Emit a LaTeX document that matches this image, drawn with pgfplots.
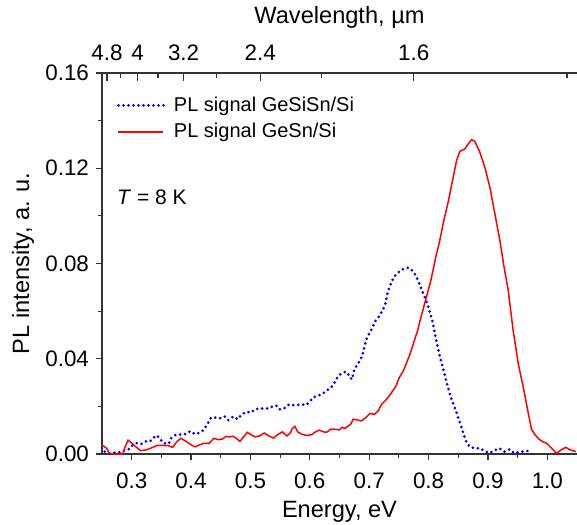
\documentclass[border=0pt]{standalone}
\usepackage{fontspec}
\setmainfont{Liberation Sans}
\usepackage{pgfplots}
\pgfplotsset{compat=1.18}
\definecolor{pblue}{RGB}{0,0,255}
\definecolor{pred}{RGB}{255,0,0}
\pgfplotstableread{
E I
0.2545 0.0010
0.2620 0.0003
0.2700 0.0005
0.2786 0.0007
0.2870 0.0014
0.2950 0.0020
0.3010 0.0035
0.3090 0.0046
0.3160 0.0042
0.3240 0.0053
0.3310 0.0053
0.3360 0.0068
0.3430 0.0078
0.3480 0.0061
0.3550 0.0045
0.3620 0.0042
0.3670 0.0068
0.3750 0.0082
0.3830 0.0082
0.3910 0.0084
0.3990 0.0096
0.4060 0.0084
0.4140 0.0089
0.4205 0.0099
0.4256 0.0117
0.4300 0.0137
0.4335 0.0153
0.4408 0.0153
0.4475 0.0149
0.4566 0.0157
0.4626 0.0142
0.4710 0.0157
0.4785 0.0146
0.4850 0.0166
0.4930 0.0177
0.5010 0.0174
0.5080 0.0188
0.5155 0.0191
0.5230 0.0191
0.5310 0.0191
0.5390 0.0202
0.5450 0.0202
0.5500 0.0187
0.5570 0.0192
0.5650 0.0208
0.5730 0.0205
0.5800 0.0206
0.5880 0.0208
0.5946 0.0206
0.6007 0.0223
0.6070 0.0239
0.6148 0.0246
0.6215 0.0253
0.6280 0.0266
0.6355 0.0279
0.6406 0.0295
0.6450 0.0316
0.6520 0.0336
0.6580 0.0344
0.6630 0.0343
0.6663 0.0327
0.6709 0.0313
0.6754 0.0358
0.6805 0.0376
0.6855 0.0397
0.6890 0.0418
0.6928 0.0460
0.6967 0.0492
0.7023 0.0515
0.7068 0.0539
0.7101 0.0557
0.7158 0.0575
0.7203 0.0594
0.7247 0.0613
0.7276 0.0634
0.7303 0.0671
0.7337 0.0696
0.7377 0.0724
0.7433 0.0748
0.7488 0.0762
0.7573 0.0777
0.7657 0.0782
0.7730 0.0770
0.7775 0.0752
0.7820 0.0731
0.7854 0.0710
0.7887 0.0689
0.7920 0.0668
0.7955 0.0647
0.8010 0.0606
0.8067 0.0555
0.8118 0.0490
0.8160 0.0445
0.8200 0.0400
0.8246 0.0357
0.8290 0.0315
0.8337 0.0272
0.8375 0.0237
0.8426 0.0205
0.8480 0.0167
0.8527 0.0132
0.8566 0.0104
0.8600 0.0076
0.8640 0.0049
0.8695 0.0030
0.8780 0.0024
0.8864 0.0024
0.8950 0.0011
0.9030 0.0004
0.9100 0.0014
0.9190 0.0024
0.9280 0.0010
0.9370 0.0020
0.9436 0.0004
0.9580 0.0010
0.9660 0.0013
0.9740 0.0005
}\bluedata
\pgfplotstableread{
E I
0.2500 0.0035
0.2534 0.0032
0.2580 0.0024
0.2620 0.0003
0.2690 0.0000
0.2770 0.0000
0.2850 0.0000
0.2887 0.0028
0.2938 0.0058
0.3000 0.0046
0.3070 0.0030
0.3150 0.0014
0.3240 0.0017
0.3337 0.0026
0.3430 0.0036
0.3530 0.0036
0.3616 0.0035
0.3690 0.0028
0.3758 0.0051
0.3825 0.0066
0.3897 0.0056
0.3980 0.0042
0.4066 0.0030
0.4140 0.0038
0.4217 0.0045
0.4306 0.0045
0.4385 0.0066
0.4458 0.0060
0.4530 0.0063
0.4588 0.0074
0.4643 0.0072
0.4710 0.0074
0.4768 0.0065
0.4823 0.0053
0.4879 0.0070
0.4946 0.0091
0.5008 0.0081
0.5076 0.0072
0.5155 0.0076
0.5233 0.0088
0.5310 0.0076
0.5390 0.0067
0.5468 0.0083
0.5540 0.0093
0.5614 0.0076
0.5670 0.0088
0.5704 0.0107
0.5750 0.0116
0.5795 0.0093
0.5862 0.0083
0.5946 0.0078
0.6030 0.0081
0.6097 0.0093
0.6158 0.0100
0.6233 0.0093
0.6280 0.0091
0.6355 0.0104
0.6420 0.0104
0.6495 0.0101
0.6545 0.0112
0.6590 0.0107
0.6635 0.0116
0.6690 0.0125
0.6730 0.0146
0.6798 0.0143
0.6870 0.0139
0.6944 0.0153
0.7010 0.0170
0.7090 0.0167
0.7150 0.0181
0.7209 0.0209
0.7293 0.0230
0.7377 0.0258
0.7450 0.0285
0.7505 0.0320
0.7573 0.0348
0.7630 0.0383
0.7685 0.0418
0.7730 0.0452
0.7775 0.0487
0.7820 0.0522
0.7853 0.0557
0.7899 0.0599
0.7943 0.0640
0.7988 0.0682
0.8034 0.0724
0.8078 0.0775
0.8123 0.0830
0.8178 0.0884
0.8258 0.0982
0.8330 0.1058
0.8404 0.1149
0.8471 0.1232
0.8527 0.1271
0.8611 0.1281
0.8667 0.1302
0.8724 0.1320
0.8780 0.1313
0.8864 0.1267
0.8948 0.1204
0.9032 0.1121
0.9116 0.1010
0.9200 0.0898
0.9270 0.0787
0.9340 0.0690
0.9424 0.0520
0.9510 0.0380
0.9604 0.0270
0.9677 0.0174
0.9733 0.0104
0.9790 0.0082
0.9855 0.0063
0.9920 0.0052
0.9990 0.0045
1.0070 0.0025
1.0155 0.0003
1.0240 0.0018
1.0310 0.0028
1.0380 0.0018
1.0480 0.0010
}\reddata
\begin{document}
\begin{tikzpicture}
\pgfplotsset{
  every axis/.append style={
    scale only axis, width=237.5pt, height=190.5pt,
    xmin=0.25, xmax=1.05, ymin=0, ymax=0.16,
    axis line style={-, line width=0.6pt, black!80},
    tick style={line width=0.6pt, black!80},
    major tick length=3pt, minor tick length=1.8pt,
    tick label style={font=\fontsize{11.2}{13}\selectfont},
    label style={font=\fontsize{11.8}{14}\selectfont},
    /pgf/number format/assume math mode=true,
  }
}
\begin{axis}[name=main,
  axis x line*=bottom, axis y line*=left,
  tick align=outside,
  xtick={0.3,0.4,0.5,0.6,0.7,0.8,0.9,1.0},
  minor x tick num=1,
  xticklabel style={yshift=-3pt, /pgf/number format/fixed, /pgf/number format/fixed zerofill, /pgf/number format/precision=1},
  ytick={0,0.04,0.08,0.12,0.16},
  minor y tick num=1,
  yticklabel style={/pgf/number format/fixed, /pgf/number format/fixed zerofill, /pgf/number format/precision=2},
  scaled y ticks=false,
  xlabel={Energy, eV},
  ylabel={PL intensity, a. u.},
  xlabel style={at={(axis description cs:0.5,-0.151)}, anchor=center},
  ylabel style={at={(axis description cs:-0.166,0.5)}, anchor=center},
  legend image code/.code={\draw[#1] (0pt,0pt) -- (22.5pt,0pt); \path (25pt,0pt);},
  legend cell align=left,
  legend style={draw=none, fill=none, at={(axis description cs:0.018,0.96)}, anchor=north west,
    font=\fontsize{10}{12}\selectfont, row sep=0.5pt},
]
\addplot[pblue, line width=1.5pt, line cap=round, dash pattern=on 0pt off 2.5pt] table[x=E, y=I] {\bluedata};
\addlegendentry{PL signal GeSiSn/Si}
\addplot[pred, line width=0.75pt] table[x=E, y=I] {\reddata};
\addlegendentry{PL signal GeSn/Si}
\node[anchor=west, font=\fontsize{10.5}{12}\selectfont] at (axis description cs:0.017,0.674) {\textit{T} = 8 K};
\end{axis}
\begin{axis}[
  axis x line*=top, axis y line=none,
  tick align=inside,
  xtick={0.25829,0.30996,0.38745,0.51660,0.77490},
  xticklabels={4.8,4,3.2,2.4,1.6},
  xticklabel style={yshift=2.5pt},
  minor xtick={0.28177,0.34440,0.44280,0.61992,1.03320},
  major tick length=4pt, minor tick length=2.5pt,
  xlabel={Wavelength, µm},
  xlabel style={at={(axis description cs:0.5,1.145)}, anchor=center},
]
\end{axis}
\pgfresetboundingbox
\useasboundingbox ([xshift=-51pt,yshift=-35pt]main.south west) rectangle ([yshift=36.5pt]main.north east);
\end{tikzpicture}
\end{document}
